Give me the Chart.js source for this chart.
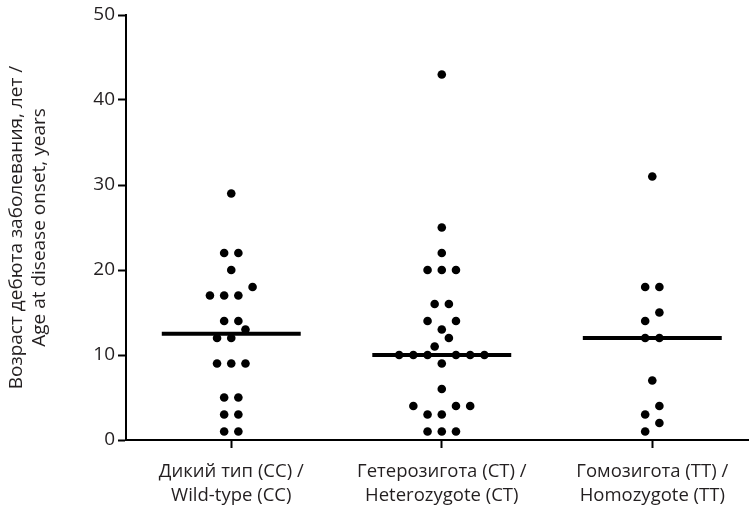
<!DOCTYPE html>
<html>
<head>
<meta charset="utf-8">
<script src="https://cdn.jsdelivr.net/npm/chart.js@4.4.1/dist/chart.umd.min.js"></script>
<style>
    html, body { margin: 0; padding: 0; background: #fff; }
    #wrap { width: 753px; height: 507px; }
</style>
</head>
<body>
<div id="wrap"><canvas id="myChart"></canvas></div>
<script>
// groups on the x axis
const categories = [
    ['Дикий тип (CC) /', 'Wild-type (CC)'],
    ['Гетерозигота (CT) /', 'Heterozygote (CT)'],
    ['Гомозигота (TT) /', 'Homozygote (TT)']
];

// age at disease onset, years
const wildType = [29, 22, 22, 20, 18, 17, 17, 17, 14, 14, 13, 12, 12, 9, 9, 9, 5, 5, 3, 3, 1, 1];
const heterozygote = [43, 25, 22, 20, 20, 20, 16, 16, 14, 14, 13, 12, 11, 10, 10, 10, 10, 10, 10, 9, 6, 4, 4, 4, 3, 3, 1, 1, 1];
const homozygote = [31, 18, 18, 15, 14, 12, 12, 7, 4, 3, 2, 1];

const yTicks = [0, 10, 20, 30, 40, 50];
const yTitle = ['Возраст дебюта заболевания, лет /', 'Age at disease onset, years'];

const groups = [wildType, heterozygote, homozygote];

const DOT_STEP = 0.0675;   // horizontal spacing of dots, in category units
const MEDIAN_HALF = 0.33;

function median(values) {
    let s = values.slice().sort((a, b) => a - b);
    let m = Math.floor(s.length / 2);
    return s.length % 2 ? s[m] : (s[m - 1] + s[m]) / 2;
}

// simple dot-plot layout: nearby values share one row, row is centred
function swarm(values, catIndex) {
    let s = values.slice().sort((a, b) => a - b);
    let points = [];
    let i = 0;
    while (i < s.length) {
        let start = s[i];
        let bin = [];
        while (i < s.length && s[i] <= start + 1) {
            bin.push(s[i]);
            i++;
        }
        let n = bin.length;
        let slots = [];
        if (n % 2) {
            slots.push(0);
            for (let k = 1; slots.length < n; k++) { slots.push(-k); slots.push(k); }
        } else {
            for (let k = 0.5; slots.length < n; k++) { slots.push(-k); slots.push(k); }
        }
        bin.forEach((v, j) => {
            points.push({ x: catIndex + slots[j] * DOT_STEP, y: v });
        });
    }
    return points;
}

let datasets = [];
groups.forEach((values, gi) => {
    datasets.push({
        type: 'scatter',
        data: swarm(values, gi),
        backgroundColor: '#000',
        borderColor: '#000',
        pointRadius: 4.3,
        pointHoverRadius: 4.3,
        borderWidth: 0
    });
    let med = median(values);
    datasets.push({
        type: 'line',
        data: [{ x: gi - MEDIAN_HALF, y: med }, { x: gi + MEDIAN_HALF, y: med }],
        borderColor: '#000',
        borderWidth: 4,
        pointRadius: 0,
        fill: false
    });
});

const FONT = '"Open Sans", "Noto Sans", sans-serif';
const TEXT = '#231f20';

var ctx = document.getElementById('myChart').getContext('2d');
var myChart = new Chart(ctx, {
    data: { datasets: datasets },
    options: {
        responsive: true,
        maintainAspectRatio: false,
        animation: false,
        layout: { padding: { top: 15, right: 0, left: 0, bottom: 0 } },
        plugins: {
            legend: { display: false },
            tooltip: { enabled: false }
        },
        scales: {
            x: {
                type: 'linear',
                min: -0.5,
                max: 2.458,
                afterBuildTicks: function (scale) {
                    scale.ticks = categories.map((c, i) => ({ value: i }));
                },
                afterFit: function (scale) { scale.height = 67; },
                ticks: {
                    autoSkip: false,
                    maxRotation: 0,
                    padding: 11,
                    color: TEXT,
                    font: { family: FONT, size: 18.5, lineHeight: 1.33 },
                    callback: function (value) { return categories[value]; }
                },
                grid: {
                    display: true,
                    drawOnChartArea: false,
                    drawTicks: true,
                    tickLength: 8,
                    tickColor: '#000',
                    tickWidth: 2
                },
                border: { display: true, color: '#000', width: 2 }
            },
            y: {
                min: 0,
                max: 50,
                afterBuildTicks: function (scale) {
                    scale.ticks = yTicks.map(v => ({ value: v }));
                },
                afterFit: function (scale) { scale.width = 126; },
                ticks: {
                    padding: 3,
                    color: TEXT,
                    font: { family: FONT, size: 19 }
                },
                grid: {
                    display: true,
                    drawOnChartArea: false,
                    drawTicks: true,
                    tickLength: 8,
                    tickColor: '#000',
                    tickWidth: 2
                },
                border: { display: true, color: '#000', width: 2 },
                title: {
                    display: true,
                    text: yTitle,
                    color: TEXT,
                    font: { family: FONT, size: 19, lineHeight: 1.2 },
                    padding: { top: 5, bottom: 0 }
                }
            }
        }
    }
});
</script>
</body>
</html>
